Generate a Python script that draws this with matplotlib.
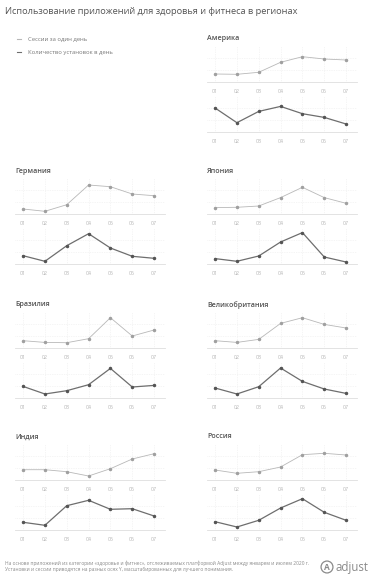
import matplotlib
matplotlib.use("Agg")
import matplotlib.pyplot as plt
from matplotlib.lines import Line2D
from matplotlib.patches import Circle

plt.rcParams['font.family'] = ['Open Sans', 'DejaVu Sans']

W, H = 371, 580

months = ["01", "02", "03", "04", "05", "06", "07"]
regions = ["Америка", "Германия", "Япония", "Бразилия",
           "Великобритания", "Индия", "Россия"]

# values (arbitrary scale, each series on its own axis)
america_sessions = [8, 7.7, 9.7, 19.7, 25.3, 23, 22]
america_installs = [24, 9.3, 20.6, 25.6, 18.3, 14.6, 8]
germany_sessions = [5.3, 3, 9.6, 29.3, 27.6, 20.3, 18.6]
germany_installs = [8.6, 3, 18.6, 30.6, 16.3, 8, 6]
japan_sessions = [6.7, 7, 8.3, 16.7, 27, 16.7, 11]
japan_installs = [5.7, 3, 8.3, 22.3, 31.7, 7.3, 2.3]
brazil_sessions = [7, 5.3, 5, 9, 30, 11.7, 17.7]
brazil_installs = [11.3, 3.7, 7, 13, 29.3, 10.7, 12.3]
uk_sessions = [7, 5.3, 8.3, 24.3, 30, 23.3, 19.7]
uk_installs = [9.7, 3.7, 11, 29.7, 16.3, 8.7, 4.3]
india_sessions = [10.3, 10.3, 8.3, 4, 11.3, 21, 26.3]
india_installs = [7.7, 4.7, 24.3, 29.7, 20.7, 21.3, 14]
russia_sessions = [10, 6.7, 8.3, 13, 25.3, 26.7, 25]
russia_installs = [8.3, 3, 9.7, 22, 31.3, 17.7, 9.7]

sessions = [america_sessions, germany_sessions, japan_sessions, brazil_sessions,
            uk_sessions, india_sessions, russia_sessions]
installs = [america_installs, germany_installs, japan_installs, brazil_installs,
            uk_installs, india_installs, russia_installs]

# panel placement in pixels: (left x, baseline of upper chart)
slots = [(207, 82), (15, 214.3), (207, 214.3), (15, 347.7),
         (207, 347.7), (15, 480), (207, 480)]

sess_color = "#b8b8b8"
inst_color = "#6e6e6e"
grid_color = "#ececec"

fig = plt.figure(figsize=(W / 100, H / 100), dpi=100)
fig.patch.set_facecolor("white")


def px_axes(x0, ybase, w=150, h=36):
    return fig.add_axes([x0 / W, (H - ybase) / H, w / W, h / H])


def small_chart(ax, values, color, mcolor, lw):
    x = list(range(1, len(months) + 1))
    ax.plot(x, values, color=color, lw=lw, marker="o", ms=1.5,
            mfc=mcolor, mec=mcolor, zorder=3)
    ax.set_xlim(0.63, 7.5)
    ax.set_ylim(0, 36)
    ax.set_xticks(x)
    ax.set_xticklabels(months)
    ax.set_yticks([12, 24])
    ax.tick_params(axis="x", length=0, pad=5, labelsize=3.8, labelcolor="#b4b4b4")
    ax.tick_params(axis="y", length=0, labelleft=False)
    for s in ["top", "left", "right"]:
        ax.spines[s].set_visible(False)
    ax.spines["bottom"].set_color("#dedede")
    ax.spines["bottom"].set_linewidth(0.6)
    ax.grid(True, color=grid_color, lw=0.5, ls=(0, (1, 1.5)))
    ax.set_facecolor("none")


for name, s, i, (x0, yb) in zip(regions, sessions, installs, slots):
    ax1 = px_axes(x0, yb)
    small_chart(ax1, s, sess_color, "#a0a0a0", 0.6)
    ax2 = px_axes(x0, yb + 50)
    small_chart(ax2, i, inst_color, "#555555", 0.9)
    fig.text(x0 / W, 1 - (yb - 43) / H, name, fontsize=5.1, color="#555555",
             fontweight="semibold", va="center", ha="left")

# title
fig.text(5 / W, 1 - 11 / H, "Использование приложений для здоровья и фитнеса в регионах",
         fontsize=6.7, color="#555555", va="center", ha="left")

# legend
for ly, col, lab in [(39, sess_color, "Сессии за один день"),
                     (52, inst_color, "Количество установок в день")]:
    fig.add_artist(Line2D([17 / W, 21 / W], [1 - ly / H, 1 - ly / H],
                          color=col, lw=0.8, transform=fig.transFigure))
    fig.text(28 / W, 1 - ly / H, lab, fontsize=4.2, color="#777777",
             va="center", ha="left")

# footer
fig.text(5 / W, 1 - 563.3 / H,
         "На основе приложений из категории «здоровье и фитнес», отслеживаемых платформой Adjust между январем и июлем 2020 г.",
         fontsize=3.5, color="#8a8a8a", va="center", ha="left")
fig.text(5 / W, 1 - 569 / H,
         "Установки и сессии приводятся на разных осях Y, масштабированных для лучшего понимания.",
         fontsize=3.5, color="#8a8a8a", va="center", ha="left")

# adjust logo
logo = fig.add_axes([320 / W, (H - 574) / H, 14 / W, 14 / H])
logo.set_xlim(-1, 1)
logo.set_ylim(-1, 1)
logo.set_aspect("equal")
logo.axis("off")
logo.add_patch(Circle((0, 0), 0.85, fill=False, ec="#8a8a8a", lw=0.9))
logo.text(0, -0.05, "A", fontsize=6, color="#8a8a8a", ha="center", va="center",
          fontweight="bold")
fig.text(336 / W, 1 - 567 / H, "adjust", fontsize=8.3, color="#8a8a8a",
         va="center", ha="left")

fig.savefig("out.png", dpi=100)
